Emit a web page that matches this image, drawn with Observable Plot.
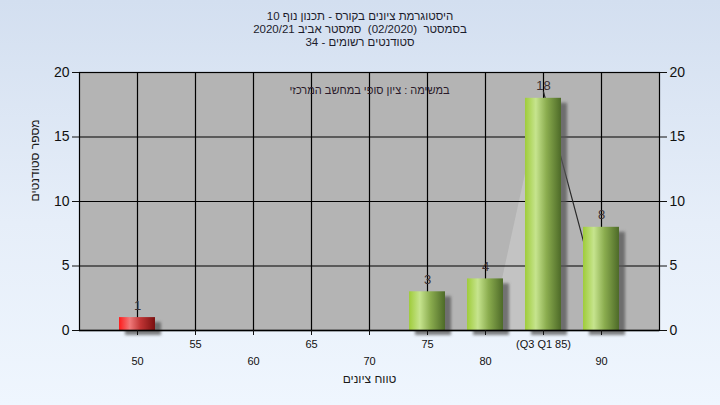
<!DOCTYPE html>
<html>
<head>
<meta charset="utf-8">
<script src="https://cdn.jsdelivr.net/npm/d3@7"></script>
<script src="https://cdn.jsdelivr.net/npm/@observablehq/plot@0.6"></script>
<style>
  html, body { margin: 0; padding: 0; }
  body { width: 720px; height: 405px; overflow: hidden;
         background: linear-gradient(to bottom, #d3dff0 0%, #e6eef9 55%, #eff6fe 100%);
         font-family: "Liberation Sans", Arial, sans-serif; }
  #wrap { position: relative; width: 720px; height: 405px; }
  #title { position: absolute; left: 0; top: 10px; width: 720px; text-align: center;
           font-size: 11.5px; line-height: 13px; color: #1c1c2c; direction: rtl; white-space: pre; }
  #chart { position: absolute; left: 0; top: 0; }
</style>
</head>
<body>
<svg width="0" height="0" style="position:absolute">
  <defs>
    <linearGradient id="gGreen" x1="0" x2="1" y1="0" y2="0">
      <stop offset="0" stop-color="#9fcc3a"/>
      <stop offset="0.3" stop-color="#c6e48e"/>
      <stop offset="0.6" stop-color="#8aac4e"/>
      <stop offset="1" stop-color="#4d6a28"/>
    </linearGradient>
    <linearGradient id="gRed" x1="0" x2="1" y1="0" y2="0">
      <stop offset="0" stop-color="#ff1a1a"/>
      <stop offset="0.3" stop-color="#f07a7a"/>
      <stop offset="0.6" stop-color="#c03434"/>
      <stop offset="1" stop-color="#7a1010"/>
    </linearGradient>
    <filter id="blurShadow" x="-20%" y="-20%" width="140%" height="140%">
      <feGaussianBlur stdDeviation="1.8"/>
    </filter>
  </defs>
</svg>
<div id="wrap">
  <div id="chart"></div>
  <div id="title"></div>
</div>
<script>
// ---- data ----
const titleLines = [
  "היסטוגרמת ציונים בקורס - תכנון נוף 10",
  "בסמסטר  (02/2020)  סמסטר אביב 2020/21",
  "סטודנטים רשומים - 34"
];
const noteText = "במשימה : ציון סופי במחשב המרכזי";
const xLabel = "טווח ציונים";
const yLabel = "מספר סטודנטים";

const grades = [50, 75, 80, 85, 90];
const counts = [1, 3, 4, 18, 8];
const passGrade = 55;

const xTicks = [50, 55, 60, 65, 70, 75, 80, 85, 90];
const xTickLabels = ["50", "55", "60", "65", "70", "75", "80", "(Q3 Q1 85)", "90"];
const yTicks = [0, 5, 10, 15, 20];

// distribution wedge (median / quartile marker) behind the bars
const wedgeX = [80.5, 85, 90.5];
const wedgeY = [0, 18.5, 0];

// ---- build ----
document.getElementById("title").innerHTML = titleLines.map(t => `<div>${t}</div>`).join("");

const halfW = 1.55;
const bars = grades.map((g, i) => ({grade: g, count: counts[i], x1: g - halfW, x2: g + halfW}));
const wedge = wedgeX.map((x, i) => ({x, y: wedgeY[i]}));
const labelOf = new Map(xTicks.map((t, i) => [t, xTickLabels[i]]));
const row1 = xTicks.filter((t, i) => i % 2 === 1);
const row2 = xTicks.filter((t, i) => i % 2 === 0);

const chart = Plot.plot({
  width: 720,
  height: 405,
  marginLeft: 79,
  marginRight: 61,
  marginTop: 72,
  marginBottom: 75,
  style: {background: "transparent", fontFamily: "'Liberation Sans', Arial, sans-serif", overflow: "visible", color: "#111"},
  x: {domain: [45, 95]},
  y: {domain: [0, 20]},
  marks: [
    Plot.frame({fill: "#b4b4b4", stroke: null}),
    Plot.areaY(wedge.filter(d => d.x <= 85), {x: "x", y: "y", fill: "#c3c3c3"}),
    Plot.gridX(xTicks, {stroke: "#000", strokeOpacity: 1, strokeWidth: 1.2}),
    Plot.gridY(yTicks, {stroke: "#000", strokeOpacity: 1, strokeWidth: 1.2}),
    Plot.line(wedge.filter(d => d.x >= 85), {x: "x", y: "y", stroke: "#2a2a2a", strokeWidth: 1.2}),
    Plot.rectY(bars, {x1: "x1", x2: "x2", y1: 0, y2: "count", fill: "#555", fillOpacity: 0.75, dx: 6, dy: 5, ariaDescription: "shadow"}),
    Plot.rectY(bars.filter(d => d.grade < passGrade), {x1: "x1", x2: "x2", y1: 0, y2: "count", fill: "url(#gRed)"}),
    Plot.rectY(bars.filter(d => d.grade >= passGrade), {x1: "x1", x2: "x2", y1: 0, y2: "count", fill: "url(#gGreen)"}),
    Plot.ruleY([0], {stroke: "#000", strokeWidth: 1.5}),
    Plot.frame({stroke: "#000", strokeWidth: 1.2}),
    Plot.text(bars, {x: "grade", y: "count", text: d => String(d.count), dy: -12, fontSize: 13, fill: "#3a2e30"}),
    Plot.text([noteText], {frameAnchor: "top", dy: 14, fontSize: 11, fill: "#2a1a2a"}),
    Plot.axisY(yTicks, {anchor: "left", tickSize: 7, tickPadding: 3, fontSize: 14, label: null}),
    Plot.axisY(yTicks, {anchor: "right", tickSize: 7, tickPadding: 3, fontSize: 14, label: null}),
    Plot.axisX(row1, {anchor: "bottom", tickSize: 5, tickPadding: 5, fontSize: 11, tickFormat: t => labelOf.get(t), label: null}),
    Plot.axisX(row2, {anchor: "bottom", tickSize: 5, tickPadding: 22, fontSize: 11, tickFormat: t => labelOf.get(t), label: null}),
    Plot.text([xLabel], {frameAnchor: "bottom", dy: 52, fontSize: 12, fill: "#1a1a1a"}),
    Plot.text([yLabel], {frameAnchor: "left", dx: -44, rotate: -90, fontSize: 12, fill: "#1a1a1a"})
  ]
});
document.getElementById("chart").appendChild(chart);
const sh = chart.querySelector('[aria-description="shadow"]');
if (sh) sh.setAttribute("filter", "url(#blurShadow)");
</script>
</body>
</html>
